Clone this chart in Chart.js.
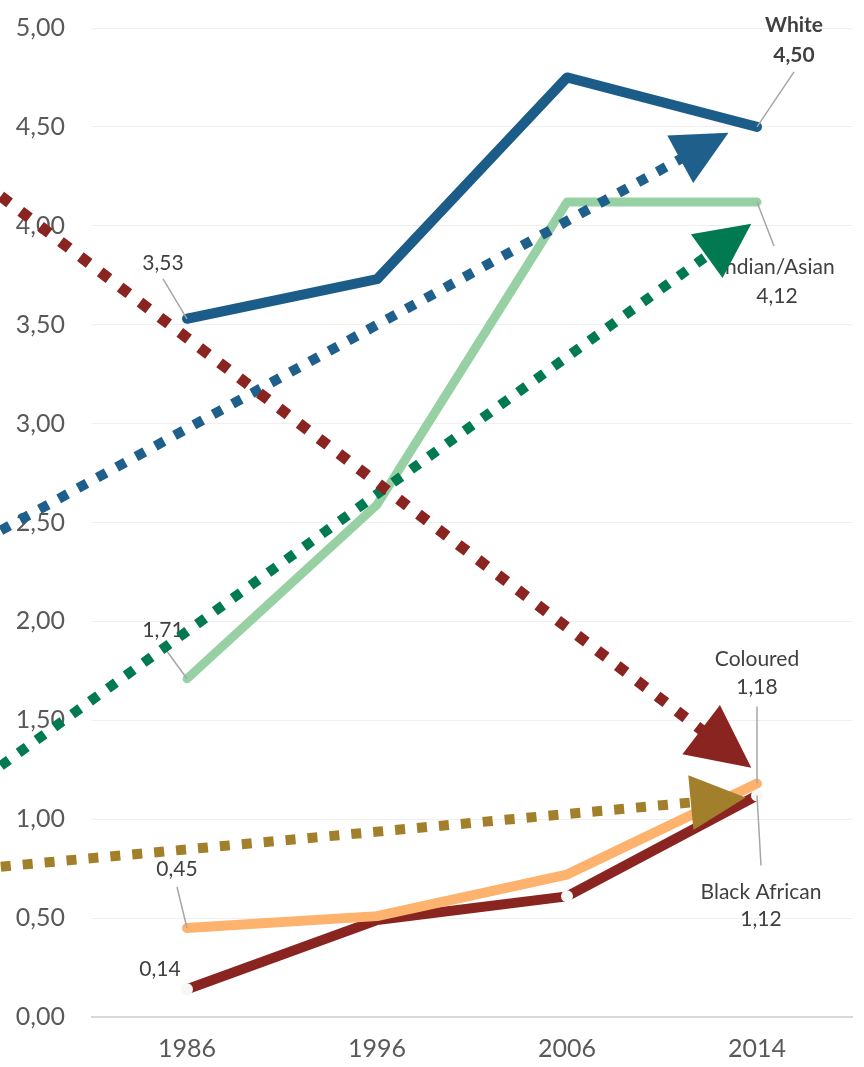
<!DOCTYPE html>
<html>
<head>
<meta charset="utf-8">
<title>Index by population group</title>
<script src="https://cdn.jsdelivr.net/npm/chart.js@4.4.1/dist/chart.umd.min.js"></script>
<style>
  html, body { margin: 0; padding: 0; background: #fff; }
  #wrap { width: 864px; height: 1067px; }
</style>
</head>
<body>
<div id="wrap"><canvas id="chart"></canvas></div>
<script>
// ========== Data ==========
const years = ["1986", "1996", "2006", "2014"];
const white = [3.53, 3.73, 4.75, 4.50];
const indianAsian = [1.71, 2.59, 4.12, 4.12];
const coloured = [0.45, 0.51, 0.72, 1.18];
const blackAfrican = [0.14, 0.49, 0.61, 1.12];

// trend arrows, x in year-index units (0 = 1986)
const trendStartX = [-0.98, -0.98, -0.98, -0.98];
const trendStartY = [2.46, 1.27, 4.15, 0.76];
const trendEndX = [2.85, 2.97, 2.97, 2.94];
const trendEndY = [4.47, 4.01, 1.26, 1.11];

// ========== Styles ==========
const FONT = "Lato, 'Open Sans', sans-serif";
const AXIS_TEXT = "#595959";
const LABEL_TEXT = "#404040";
const LEADER = "#a6a6a6";

const trendStyles = [
  { color: "#1f5f8b", width: 10, dash: [10, 12], headLen: 55, headW: 54 },
  { color: "#017a52", width: 10, dash: [10, 12], headLen: 55, headW: 54 },
  { color: "#8a2420", width: 11, dash: [11, 14], headLen: 63, headW: 62 },
  { color: "#a27f2b", width: 10, dash: [10, 12], headLen: 55, headW: 55 },
];

const fmt = (v) => v.toFixed(2).replace(".", ",");
const toXY = (arr) => arr.map((y, x) => ({ x, y }));

// label placement relative to the data point (pixels)
const pointLabels = [
  { ds: 0, i: 0, lines: () => [fmt(white[0])], dx: -24, dy: -56, lead: [-24, -40] },
  { ds: 1, i: 0, lines: () => [fmt(indianAsian[0])], dx: -24, dy: -49, lead: [-24, -33] },
  { ds: 2, i: 0, lines: () => [fmt(coloured[0])], dx: -10, dy: -59, lead: [-10, -41] },
  { ds: 3, i: 0, lines: () => [fmt(blackAfrican[0])], dx: -27, dy: -20, lead: null },
  { ds: 0, i: 3, lines: () => ["White", fmt(white[3])], dx: 37, dy: -102, gap: 30, bold: true, lead: [37, -55] },
  { ds: 1, i: 3, lines: () => ["Indian/Asian", fmt(indianAsian[3])], dx: 20, dy: 65, gap: 29, lead: [17, 44] },
  { ds: 2, i: 3, lines: () => ["Coloured", fmt(coloured[3])], dx: 0, dy: -124, gap: 28, lead: [0, -77] },
  { ds: 3, i: 3, lines: () => ["Black African", fmt(blackAfrican[3])], dx: 4, dy: 97, gap: 27, lead: [4, 70] },
];

// ========== Labels + trend arrows ==========
const overlayPlugin = {
  id: "overlay",
  afterDatasetsDraw(chart) {
    const { ctx, scales: { x, y } } = chart;
    ctx.save();

    // leader lines and value labels
    pointLabels.forEach((l) => {
      const el = chart.getDatasetMeta(l.ds).data[l.i];
      const px = el.x, py = el.y;
      if (l.lead) {
        ctx.strokeStyle = LEADER;
        ctx.lineWidth = 1.5;
        ctx.beginPath();
        ctx.moveTo(px, py);
        ctx.lineTo(px + l.lead[0], py + l.lead[1]);
        ctx.stroke();
      }
      ctx.fillStyle = LABEL_TEXT;
      ctx.font = `${l.bold ? "bold " : ""}21px ${FONT}`;
      ctx.textAlign = "center";
      ctx.textBaseline = "middle";
      l.lines().forEach((t, k) => {
        ctx.fillText(t, px + l.dx, py + l.dy + k * (l.gap || 0));
      });
    });

    // dotted trend lines with triangle heads
    trendStyles.forEach((s, k) => {
      const x0 = x.getPixelForValue(trendStartX[k]);
      const y0 = y.getPixelForValue(trendStartY[k]);
      const x1 = x.getPixelForValue(trendEndX[k]);
      const y1 = y.getPixelForValue(trendEndY[k]);
      const len = Math.hypot(x1 - x0, y1 - y0);
      const ux = (x1 - x0) / len, uy = (y1 - y0) / len;
      const bx = x1 - ux * s.headLen, by = y1 - uy * s.headLen;

      ctx.strokeStyle = s.color;
      ctx.lineWidth = s.width;
      ctx.lineCap = "butt";
      ctx.setLineDash(s.dash);
      ctx.beginPath();
      ctx.moveTo(x0, y0);
      ctx.lineTo(bx + ux * 4, by + uy * 4);
      ctx.stroke();
      ctx.setLineDash([]);

      ctx.fillStyle = s.color;
      ctx.beginPath();
      ctx.moveTo(x1, y1);
      ctx.lineTo(bx - uy * s.headW / 2, by + ux * s.headW / 2);
      ctx.lineTo(bx + uy * s.headW / 2, by - ux * s.headW / 2);
      ctx.closePath();
      ctx.fill();
    });

    ctx.restore();
  },
};

// ========== Chart ==========
const lineBase = {
  tension: 0,
  borderCapStyle: "round",
  borderJoinStyle: "round",
  pointRadius: 0,
  pointHoverRadius: 0,
  fill: false,
};

new Chart(document.getElementById("chart"), {
  type: "line",
  data: {
    datasets: [
      { ...lineBase, label: "White", data: toXY(white), borderColor: "#1c5c88", borderWidth: 10 },
      { ...lineBase, label: "Indian/Asian", data: toXY(indianAsian), borderColor: "#97d1a3", borderWidth: 9 },
      { ...lineBase, label: "Coloured", data: toXY(coloured), borderColor: "#fdb26d", borderWidth: 10 },
      {
        ...lineBase,
        label: "Black African",
        data: toXY(blackAfrican),
        borderColor: "#8a2420",
        borderWidth: 10,
        pointRadius: [6, 0, 6, 6],
        pointBackgroundColor: "#f7f7f7",
        pointBorderWidth: 0,
      },
    ],
  },
  options: {
    responsive: true,
    maintainAspectRatio: false,
    animation: false,
    events: [],
    layout: { padding: { top: 28, right: 12, left: 0, bottom: 0 } },
    plugins: {
      legend: { display: false },
      tooltip: { enabled: false },
    },
    scales: {
      x: {
        type: "linear",
        min: -0.5,
        max: 3.5,
        afterBuildTicks: (axis) => {
          axis.ticks = years.map((_, i) => ({ value: i }));
        },
        afterFit: (axis) => { axis.height = 50; },
        ticks: {
          callback: (v) => years[v],
          color: AXIS_TEXT,
          font: { family: FONT, size: 25 },
          padding: 17,
          maxRotation: 0,
        },
        grid: { display: false, drawTicks: false },
        border: { display: true, color: "#d9d9d9", width: 2 },
      },
      y: {
        min: 0,
        max: 5,
        afterFit: (axis) => {
          axis.width = 92;
          // keep the tick padding from pushing the plot area down
          axis.paddingTop = 12;
          axis.paddingBottom = 12;
        },
        ticks: {
          stepSize: 0.5,
          callback: (v) => fmt(v),
          color: AXIS_TEXT,
          font: { family: FONT, size: 25 },
          padding: 27,
        },
        grid: { color: "#efefef", lineWidth: 1, drawTicks: false },
        border: { display: false },
      },
    },
  },
  plugins: [overlayPlugin],
});
</script>
</body>
</html>
